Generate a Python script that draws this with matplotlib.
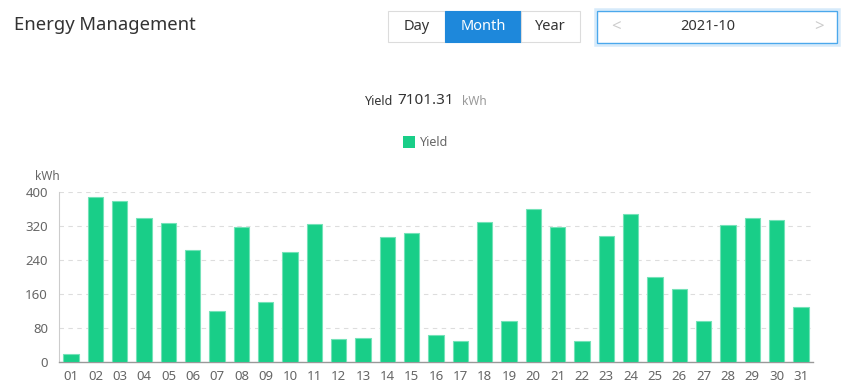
import numpy as np
import matplotlib.pyplot as plt
from matplotlib.patches import Rectangle

days = [f"{d:02d}" for d in range(1, 32)]
yield_kwh = [20, 389, 378, 340, 327, 263, 120, 317, 141, 258,
             324, 53, 57, 293, 303, 63, 49, 329, 96, 359,
             317, 49, 296, 349, 200, 171, 96, 323, 338, 333, 130]
y_ticks = [0, 80, 160, 240, 320, 400]
total_yield = "7101.31"
title = "Energy Management"
periods = ["Day", "Month", "Year"]
date_label = "2021-10"

W, H = 860, 389
plt.rcParams["font.family"] = ["Noto Sans", "DejaVu Sans"]

fig = plt.figure(figsize=(W / 100, H / 100), dpi=100)


def fx(px):
    return px / W


def fy(py):
    return 1 - py / H


def box(x0, y0, x1, y1, **kw):
    fig.add_artist(Rectangle((fx(x0), fy(y1)), fx(x1) - fx(x0), fy(y0) - fy(y1),
                             transform=fig.transFigure, **kw))


# header
fig.text(fx(14), fy(25), title, fontsize=13.3, color="#333333", va="center", ha="left")

# period buttons
btn_edges = [388, 445, 521, 580]
for i, name in enumerate(periods):
    active = name == "Month"
    box(btn_edges[i], 11, btn_edges[i + 1], 42,
        facecolor="#1e88db" if active else "white",
        edgecolor="#1e88db" if active else "#dcdcdc", linewidth=0.8)
    fig.text(fx((btn_edges[i] + btn_edges[i + 1]) / 2), fy(27), name, fontsize=10.5,
             color="white" if active else "#333333", ha="center", va="center")

# date picker
box(595, 9, 839, 45, facecolor="none", edgecolor="#d6eafa", linewidth=1.8)
box(597, 11, 837, 43, facecolor="white", edgecolor="#4ba8ec", linewidth=1.0)
fig.text(fx(708), fy(27), date_label, fontsize=10.5, color="#333333", ha="center", va="center")
fig.text(fx(616), fy(27), "<", fontsize=12, color="#cccccc", ha="center", va="center")
fig.text(fx(819), fy(27), ">", fontsize=12, color="#cccccc", ha="center", va="center")

# total yield line
fig.text(fx(393), fy(102), "Yield", fontsize=9, color="#333333", ha="right", va="center")
fig.text(fx(397), fy(101), total_yield, fontsize=11, color="#333333", ha="left", va="center")
fig.text(fx(462), fy(102), "kWh", fontsize=8.5, color="#999999", ha="left", va="center")

# legend
box(403, 136, 415, 148, facecolor="#19ce88", edgecolor="none")
fig.text(fx(420), fy(142), "Yield", fontsize=9, color="#666666", ha="left", va="center")

ax = fig.add_axes([fx(59), fy(362), fx(813) - fx(59), fy(192) - fy(362)])
x = np.arange(len(days))
ax.bar(x, yield_kwh, width=0.63, color="#19ce88", edgecolor="#74e2b8", linewidth=0.8, zorder=3)
ax.set_xlim(-0.5, len(days) - 0.5)
ax.set_ylim(0, 400)
ax.set_xticks(x, days)
ax.set_yticks(y_ticks)
ax.yaxis.grid(True, linestyle=(0, (4, 4)), color="#dddddd", linewidth=0.8, zorder=0)
ax.tick_params(length=0, colors="#666666", labelsize=9.5)
ax.tick_params(axis="x", pad=6)
ax.tick_params(axis="y", pad=8)
for side in ["top", "right"]:
    ax.spines[side].set_visible(False)
ax.spines["left"].set_color("#cccccc")
ax.spines["bottom"].set_color("#999999")
ax.spines["left"].set_linewidth(0.8)
ax.spines["bottom"].set_linewidth(1.0)
fig.text(fx(47), fy(176), "kWh", fontsize=8.5, color="#666666", ha="center", va="center")

fig.savefig("out.png", dpi=100)
